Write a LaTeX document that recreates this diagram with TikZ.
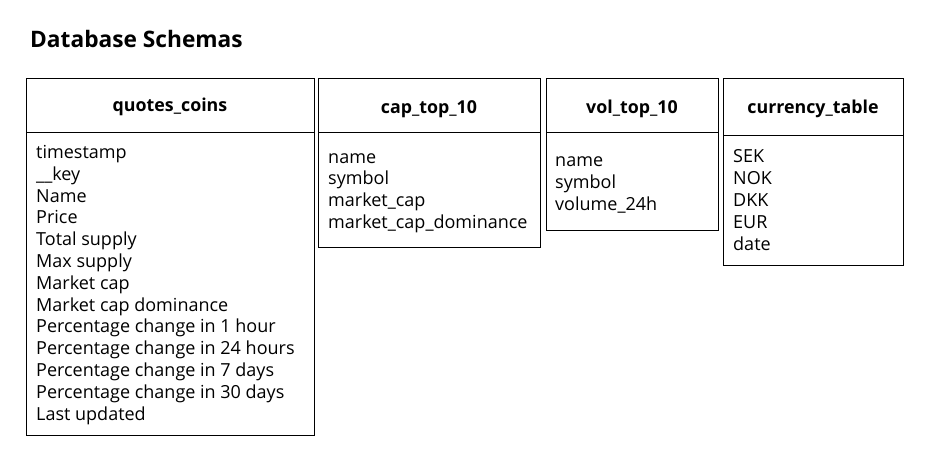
\documentclass[tikz,border=0pt]{standalone}
\usepackage{fontspec}
\setmainfont{Open Sans}
\begin{document}
\begin{tikzpicture}[x=1pt,y=-1pt,
  tablebox/.style={draw, line width=1pt, inner sep=0pt, anchor=north west},
  headtext/.style={font=\bfseries\fontsize{17.8}{21}\selectfont, anchor=base, inner sep=0pt},
  % base anchor of a multi-line node sits on its last line
  fieldtext/.style={font=\fontsize{18}{21.8}\selectfont, align=left, anchor=base west, inner sep=0pt},
  divider/.style={line width=1pt},
]
\useasboundingbox (0,0) rectangle (939,460);

% title
\node[font=\bfseries\fontsize{22.7}{26}\selectfont, anchor=base west, inner sep=0pt] (title) at (30,48) {Database Schemas};

% table frames
\node[tablebox, minimum width=288pt, minimum height=357pt] (qc) at (26,78) {};
\node[tablebox, minimum width=222pt, minimum height=169pt] (cap) at (318,78) {};
\node[tablebox, minimum width=172pt, minimum height=152pt] (vol) at (546,78) {};
\node[tablebox, minimum width=180pt, minimum height=187pt] (cur) at (723,78) {};

% header dividers
\coordinate (qcdiv) at (0,132);
\coordinate (curdiv) at (0,135);
\draw[divider] (qc.west |- qcdiv) -- (qc.east |- qcdiv);
\draw[divider] (cap.west |- qcdiv) -- (cap.east |- qcdiv);
\draw[divider] (vol.west |- qcdiv) -- (vol.east |- qcdiv);
\draw[divider] (cur.west |- curdiv) -- (cur.east |- curdiv);

% table names
\node[headtext] (qch) at (170,111) {quotes\_coins};
\node[headtext] (caph) at (429,113) {cap\_top\_10};
\node[headtext] (volh) at (632,113) {vol\_top\_10};
\node[headtext] (curh) at (813,113) {currency\_table};

% fields
\node[fieldtext] (qcf) at (36,420) {timestamp\\\_\_key\\Name\\Price\\Total supply\\Max supply\\Market cap\\Market cap dominance\\Percentage change in 1 hour\\Percentage change in 24 hours\\Percentage change in 7 days\\Percentage change in 30 days\\Last updated};
\node[fieldtext] (capf) at (328,228.5) {name\\symbol\\market\_cap\\market\_cap\_dominance};
\node[fieldtext] (volf) at (555,210.5) {name\\symbol\\volume\_24h};
\node[fieldtext] (curf) at (733,250) {SEK\\NOK\\DKK\\EUR\\date};
\end{tikzpicture}
\end{document}
